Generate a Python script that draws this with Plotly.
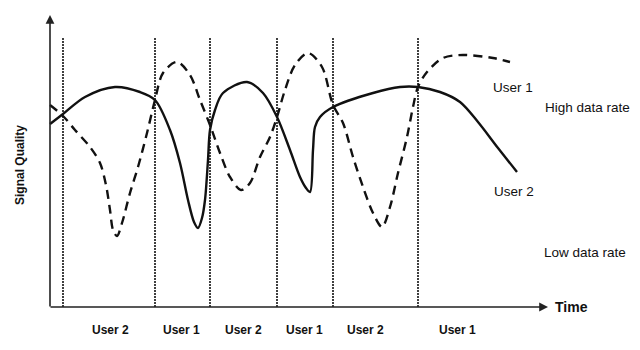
import plotly.graph_objects as go

# Chart units: time t (left->right), quality q (bottom->top), 0..640 x 0..350
user2_t = [50, 63, 85, 115, 140, 155, 170, 180, 188, 194, 198, 202, 205, 208, 210, 215, 223, 247, 263, 277, 290, 300, 306, 310, 313, 315, 320, 333, 373, 400, 418, 440, 460, 478, 498, 517]
user2_q = [226, 236, 253, 263, 258, 250, 220, 187, 150, 128, 122, 132, 150, 190, 220, 240, 257, 268, 257, 233, 200, 173, 162, 158, 200, 223, 233, 243, 257, 263, 263, 258, 248, 228, 202, 178]

user1_t = [50, 63, 75, 90, 100, 106, 110, 113, 117, 122, 130, 138, 147, 155, 163, 177, 190, 200, 210, 220, 230, 241, 250, 260, 270, 277, 285, 295, 308, 322, 333, 343, 353, 363, 373, 382, 390, 398, 407, 413, 418, 427, 443, 463, 493, 510]
user1_q = [245, 234, 220, 203, 187, 165, 140, 120, 114, 127, 157, 183, 217, 250, 277, 288, 275, 250, 225, 197, 173, 160, 167, 193, 213, 233, 260, 285, 297, 283, 245, 227, 193, 163, 137, 123, 143, 177, 213, 243, 263, 278, 292, 295, 292, 288]

switch_times = [63, 155, 210, 277, 333, 418]
slot_centers = [110, 181, 243, 304, 365, 457]
slot_users = ["User 2", "User 1", "User 2", "User 1", "User 2", "User 1"]

axis_origin = (50, 43)
axis_x_end = 548
axis_y_end = 335
switch_top = 313

font_family = "Liberation Sans, Arial, sans-serif"
ink = "#111111"

fig = go.Figure()

# vertical dotted slot boundaries
vx, vy = [], []
for t in switch_times:
    vx += [t, t, None]
    vy += [axis_origin[1], switch_top, None]
fig.add_trace(go.Scatter(x=vx, y=vy, mode="lines",
                         line=dict(color=ink, width=1.6, dash="2px,1px"),
                         hoverinfo="skip", showlegend=False))

fig.add_trace(go.Scatter(x=user2_t, y=user2_q, mode="lines", name="User 2",
                         line=dict(color=ink, width=2.4, shape="spline", smoothing=0.9),
                         showlegend=False))
fig.add_trace(go.Scatter(x=user1_t, y=user1_q, mode="lines", name="User 1",
                         line=dict(color=ink, width=2.4, shape="spline", smoothing=0.9, dash="9px,6px"),
                         showlegend=False))

ann = []
# axes with arrows
ann.append(dict(x=axis_x_end, y=axis_origin[1], ax=axis_origin[0] - 1, ay=axis_origin[1],
                xref="x", yref="y", axref="x", ayref="y", text="", showarrow=True,
                arrowhead=2, arrowsize=1.1, arrowwidth=1.6, arrowcolor="#222"))
ann.append(dict(x=axis_origin[0], y=axis_y_end, ax=axis_origin[0], ay=axis_origin[1] - 1,
                xref="x", yref="y", axref="x", ayref="y", text="", showarrow=True,
                arrowhead=2, arrowsize=1.1, arrowwidth=1.6, arrowcolor="#222"))

ann.append(dict(x=571, y=43, text="<b>Time</b>", showarrow=False,
                font=dict(size=14, color=ink, family=font_family)))
ann.append(dict(x=20, y=185, text="<b>Signal Quality</b>", showarrow=False, textangle=-90,
                font=dict(size=12, color=ink, family=font_family)))
for c, u in zip(slot_centers, slot_users):
    ann.append(dict(x=c, y=20, text="<b>" + u + "</b>", showarrow=False,
                    font=dict(size=12, color=ink, family=font_family)))

side_labels = [(513, 263, "User 1"), (587, 243, "High data rate"),
               (514, 159, "User 2"), (585, 98, "Low data rate")]
for x, y, s in side_labels:
    ann.append(dict(x=x, y=y, text=s, showarrow=False,
                    font=dict(size=13.5, color=ink, family=font_family)))

fig.update_layout(
    width=640, height=350,
    margin=dict(l=0, r=0, t=0, b=0),
    paper_bgcolor="white", plot_bgcolor="white",
    xaxis=dict(range=[0, 640], visible=False, fixedrange=True),
    yaxis=dict(range=[0, 350], visible=False, fixedrange=True),
    annotations=ann,
    showlegend=False,
)

fig.write_html("out.html")
